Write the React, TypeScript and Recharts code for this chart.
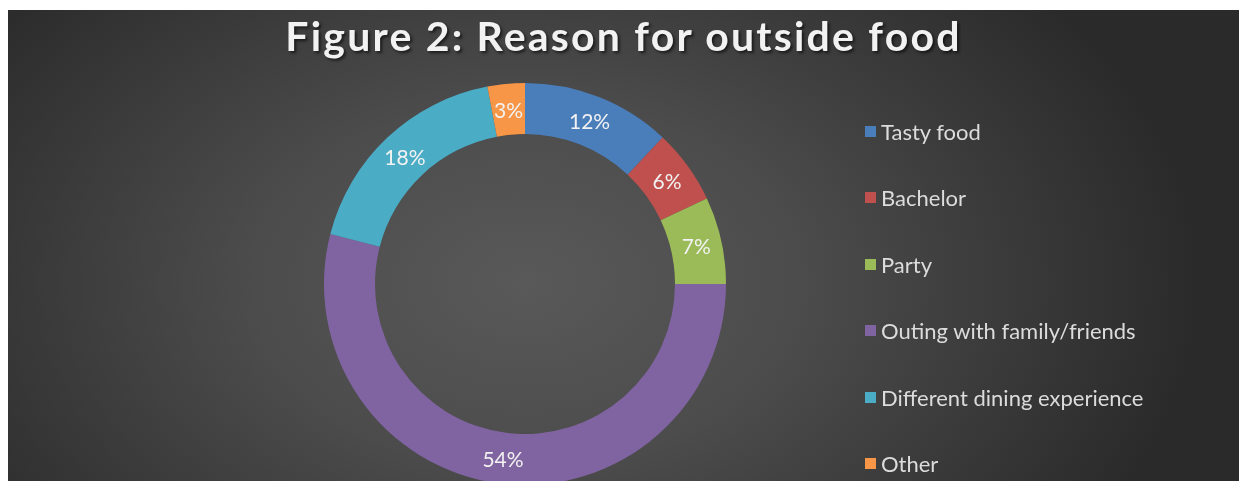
import { PieChart, Pie, Cell, Legend } from 'recharts'

const reasons = ['Tasty food', 'Bachelor', 'Party', 'Outing with family/friends', 'Different dining experience', 'Other']
const shares = [12, 6, 7, 54, 18, 3]
const colors = ['#4a7ebb', '#c0504d', '#9bbb59', '#8064a2', '#4bacc6', '#f79646']

const data = reasons.map((name, i) => ({ name, value: shares[i] }))

const RAD = Math.PI / 180
const font = 'Lato, "Open Sans", sans-serif'

function SliceLabel(props: any) {
  const { cx, cy, midAngle, innerRadius, outerRadius, value } = props
  const r = (innerRadius + outerRadius) / 2
  const x = cx + r * Math.cos(-midAngle * RAD)
  const y = cy + r * Math.sin(-midAngle * RAD)
  return (
    <text x={x} y={y} fill="#f2f2f2" fontSize={21} fontFamily={font} textAnchor="middle" dominantBaseline="central">
      {value}%
    </text>
  )
}

function LegendList() {
  return (
    <div>
      {data.map((d, i) => (
        <div key={d.name} style={{ display: 'flex', alignItems: 'center', height: 66.5 }}>
          <span style={{ width: 11, height: 11, background: colors[i], marginRight: 5 }} />
          <span style={{ color: '#dcdcdc', fontSize: 22, fontFamily: font }}>{d.name}</span>
        </div>
      ))}
    </div>
  )
}

export default function App() {
  return (
    <div
      style={{
        position: 'fixed',
        top: 10,
        left: 8,
        width: 1231,
        height: 471,
        background: 'radial-gradient(ellipse 55% 95% at 42% 58%, #595959 0%, #4c4c4c 40%, #2a2a2a 100%)',
      }}
    >
      <div
        style={{
          position: 'absolute',
          top: 1,
          left: 0,
          width: 1231,
          textAlign: 'center',
          color: '#f2f2f2',
          fontFamily: font,
          fontWeight: 700,
          fontSize: 41,
          letterSpacing: 2.2,
          textShadow: '2px 2px 3px rgba(0,0,0,0.6)',
        }}
      >
        Figure 2: Reason for outside food
      </div>
      <PieChart width={1231} height={471} style={{ position: 'absolute', top: 0, left: 0 }}>
        <Pie
          data={data}
          dataKey="value"
          nameKey="name"
          cx={512}
          cy={269}
          innerRadius={150}
          outerRadius={201}
          startAngle={90}
          endAngle={-270}
          stroke="none"
          label={SliceLabel}
          labelLine={false}
          isAnimationActive={false}
        >
          {data.map((d, i) => (
            <Cell key={d.name} fill={colors[i]} />
          ))}
        </Pie>
        <Legend
          layout="vertical"
          content={LegendList}
          wrapperStyle={{ position: 'absolute', left: 857, top: 88, width: 370 }}
        />
      </PieChart>
    </div>
  )
}
